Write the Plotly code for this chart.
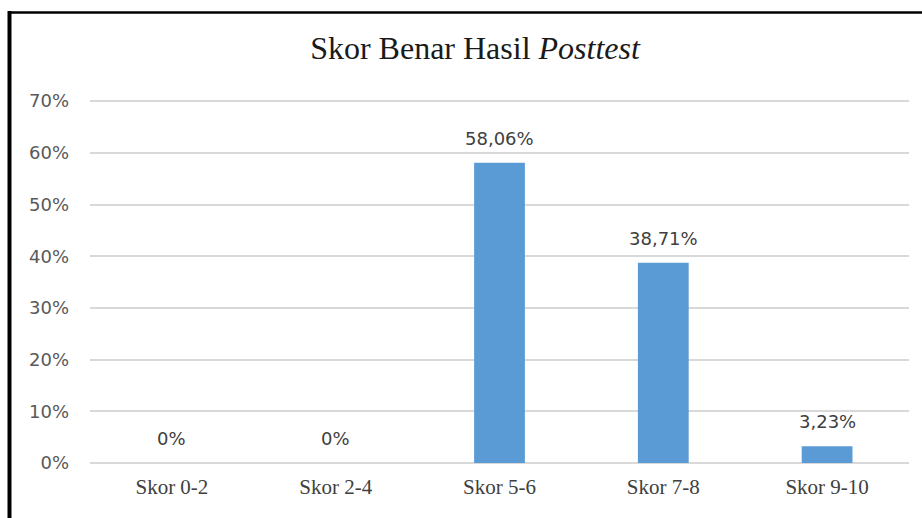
import plotly.graph_objects as go

categories = ["Skor 0-2", "Skor 2-4", "Skor 5-6", "Skor 7-8", "Skor 9-10"]
values = [0, 0, 58.06, 38.71, 3.23]
y_ticks = [0, 10, 20, 30, 40, 50, 60, 70]
y_tick_labels = ["0%", "10%", "20%", "30%", "40%", "50%", "60%", "70%"]


def fmt(v):
    if v == 0:
        return "0%"
    return f"{v:.2f}".replace(".", ",") + "%"


fig = go.Figure()
fig.add_trace(go.Bar(
    x=categories,
    y=values,
    marker=dict(color="#5b9bd5", line=dict(width=0)),
    width=0.31,
    hoverinfo="skip",
))

for c, v in zip(categories, values):
    fig.add_annotation(
        x=c, y=v, xref="x", yref="y",
        text=fmt(v), showarrow=False,
        yanchor="bottom", yshift=12,
        font=dict(family="DejaVu Sans", size=18, color="#404040"),
    )

# plot area: x 90..909, y 98..463 (70% line lands at ~101)
fig.update_layout(
    width=922, height=518,
    margin=dict(l=90, r=13, t=98, b=55),
    paper_bgcolor="white", plot_bgcolor="white",
    showlegend=False,
    title=dict(
        text="Skor Benar Hasil <i>Posttest</i>",
        x=475 / 922, xref="container", xanchor="center",
        y=1 - 48 / 518, yref="container", yanchor="middle",
        font=dict(family="Liberation Serif", size=32, color="#1a1a1a"),
    ),
    xaxis=dict(
        showgrid=False, zeroline=False, showline=False, ticks="",
        ticklabelstandoff=9,
        tickfont=dict(family="Liberation Serif", size=21, color="#404040"),
    ),
    yaxis=dict(
        range=[0, 70.6], tickmode="array", tickvals=y_ticks, ticktext=y_tick_labels,
        showgrid=True, gridcolor="#d9d9d9", gridwidth=1.5,
        zeroline=True, zerolinecolor="#d9d9d9", zerolinewidth=1.5,
        showline=False, ticks="", ticklabelstandoff=20,
        tickfont=dict(family="DejaVu Sans", size=18, color="#595959"),
    ),
    shapes=[
        dict(type="line", xref="paper", yref="paper",
             x0=(9.5 - 90) / 819, x1=(9.5 - 90) / 819,
             y0=(463 - 530) / 365, y1=(463 - 11) / 365,
             line=dict(color="black", width=4)),
        dict(type="line", xref="paper", yref="paper",
             x0=(8 - 90) / 819, x1=(930 - 90) / 819,
             y0=(463 - 12.5) / 365, y1=(463 - 12.5) / 365,
             line=dict(color="black", width=2.5)),
    ],
)

fig.write_html("out.html", config={"displayModeBar": False},
               post_script="document.body.style.margin='0';")
